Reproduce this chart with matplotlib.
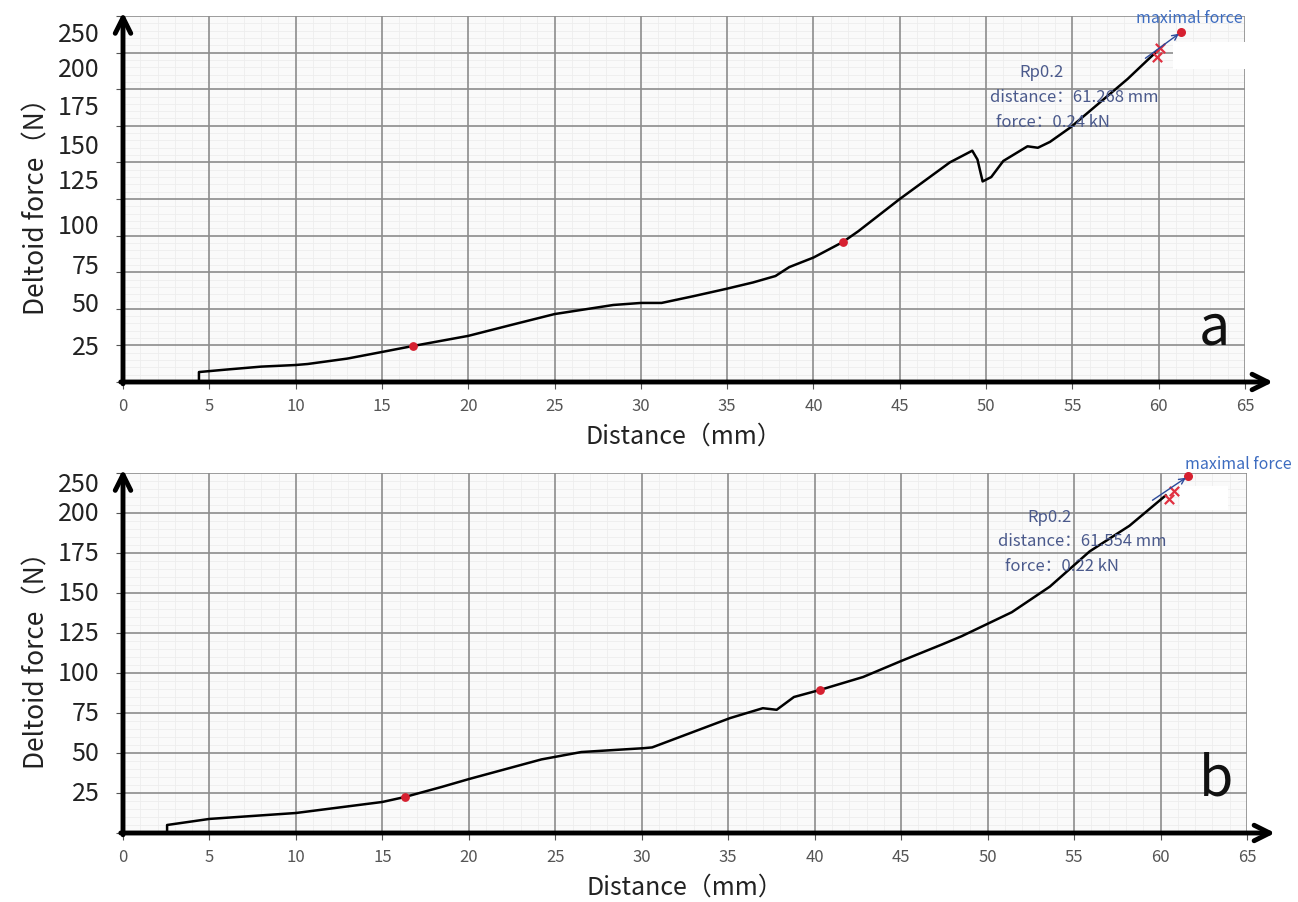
import matplotlib
matplotlib.use("Agg")
import matplotlib.pyplot as plt
from matplotlib.patches import Rectangle
import numpy as np

plt.rcParams['font.family'] = ['Noto Sans CJK SC', 'DejaVu Sans']

# panel a: distance (mm) / force (N)
dist_a = [4.4, 4.4, 6, 8, 10, 10.7, 13, 15, 16.8, 20, 22.5, 25, 28.4, 30, 31.2, 33, 34.9,
          36.5, 37.8, 38.6, 40, 41.7, 42.6, 45, 47.9, 49.2, 49.5, 49.8, 50.3, 51.0, 52.4,
          53.0, 53.7, 54.9, 56.2, 58.2, 59.9]
force_a = [0, 6.8, 8.5, 10.5, 11.6, 12.3, 16, 20.5, 24.6, 31.5, 39, 46.4, 52.6, 54, 54,
           58.5, 63.5, 68, 72.4, 78.5, 85, 95.6, 103, 125, 150, 158, 152, 137, 140, 151,
           161, 160, 164, 174, 187, 207, 226]
marks_a_x = [16.8, 41.7]
marks_a_y = [24.6, 95.6]
rp_a_x = [59.9, 60.1]
rp_a_y = [222, 228]
max_a = (61.3, 239)
arrow_a_from = (59.1, 220)

# panel b
dist_b = [2.55, 2.55, 5, 10, 15, 16.3, 18.4, 20, 24.2, 26.5, 30.1, 30.6, 35.1, 37.0, 37.8,
          38.8, 40.3, 42.8, 45.0, 47.4, 48.5, 51.4, 53.6, 55.9, 58.2, 60.3]
force_b = [0, 5, 8.8, 12.5, 19.4, 22.5, 28.7, 33.7, 46, 50.6, 53, 53.5, 71.8, 78, 77, 85,
           89.4, 97.5, 107.5, 118, 123, 138, 154, 176, 192, 211]
marks_b_x = [16.3, 40.3]
marks_b_y = [22.5, 89.4]
rp_b_x = [60.5, 60.8]
rp_b_y = [209, 214]
max_b = (61.6, 223)
arrow_b_from = (59.4, 207)

ylabels = ['25', '50', '75', '100', '125', '150', '175', '200', '250']
ylabel_pos_a = [23.9, 53.3, 79.2, 106.6, 137.3, 161.2, 187.8, 213.8, 237.7]
ylabel_pos_b = [25, 50, 75, 100, 125, 150, 175, 200, 218]

fig = plt.figure(figsize=(12.98, 9.03), dpi=100)
ax_a = fig.add_axes([123/1298, (903-383)/903, 1122/1298, 366/903])
ax_b = fig.add_axes([123/1298, (903-834)/903, 1124/1298, 360/903])

text_col = '#4b5a8c'
blue = '#3d6cc0'


def draw_panel(ax, d, f, ytop, mx, my, rx, ry, mpt, afrom, ypos, maxlab_xy, txt_xy, txt_lines,
               letter, patch):
    ax.set_facecolor('#fafafa')
    ax.set_xlim(0, 65)
    ax.set_ylim(0, ytop)
    ax.set_xticks(np.arange(0, 66, 5))
    ax.set_yticks(np.arange(0, ytop + 1, 25))
    ax.set_yticklabels([])
    # fine paper grid underneath the main grid
    for v in range(65):
        if v % 5:
            ax.axvline(v, color='#ededed', lw=0.6, zorder=0.1)
    for v in range(0, ytop, 5):
        if v % 25:
            ax.axhline(v, color='#ededed', lw=0.6, zorder=0.1)
    ax.grid(which='major', color='#8c8c8c', lw=1.2)
    ax.tick_params(axis='x', which='major', length=5, color='#555555', labelsize=12,
                   labelcolor='#555555', pad=6)
    ax.tick_params(axis='y', which='major', length=5, color='#555555')
    ax.set_axisbelow(True)
    for s in ax.spines.values():
        s.set_visible(False)

    for p, lab in zip(ypos, ylabels):
        ax.text(-0.021, p, lab, transform=ax.get_yaxis_transform(), ha='right', va='center',
                fontsize=18, color='#222222')

    # white mask patch near the Rp0.2 marker
    ax.add_patch(Rectangle(patch[0], patch[1], patch[2], facecolor='white', edgecolor='none', zorder=2))

    ax.plot(d, f, color='black', lw=1.8, zorder=3)
    ax.scatter(mx, my, s=28, color='#d62030', zorder=4)
    ax.scatter(rx, ry, s=45, marker='x', color='#e03040', lw=1.6, zorder=4)
    ax.scatter([mpt[0]], [mpt[1]], s=30, color='#d62030', zorder=5, clip_on=False)
    ax.annotate('', xy=mpt, xytext=afrom,
                arrowprops=dict(arrowstyle='->', color='#2c4a9a', lw=1.0), zorder=5)
    ax.annotate('maximal force', xy=maxlab_xy, fontsize=11.5, color=blue,
                ha='center', va='center', annotation_clip=False)

    tx, ty = txt_xy
    ax.text(tx + 3.0, ty, txt_lines[0], fontsize=12, color=text_col, ha='center', va='center')
    ax.text(tx, ty - 0.068 * ytop, txt_lines[1], fontsize=12, color=text_col, ha='left', va='center')
    ax.text(tx + 0.4, ty - 0.136 * ytop, txt_lines[2], fontsize=12, color=text_col, ha='left', va='center')

    ax.text(63.2, 0.07 * ytop, letter, fontsize=40, color='#111111', ha='center', va='bottom')

    # thick arrow axes
    ax.annotate('', xy=(1.025, 0), xytext=(-0.002, 0), xycoords='axes fraction',
                arrowprops=dict(arrowstyle='->', lw=3.5, color='black', mutation_scale=28,
                                shrinkA=0, shrinkB=0))
    ax.annotate('', xy=(0, 1.01), xytext=(0, -0.005), xycoords='axes fraction',
                arrowprops=dict(arrowstyle='->', lw=3.5, color='black', mutation_scale=28,
                                shrinkA=0, shrinkB=0))

    ax.set_xlabel('Distance（mm）', fontsize=18, color='#222222', labelpad=6)
    ax.set_ylabel('Deltoid force（N）', fontsize=19, color='#222222', labelpad=44)


draw_panel(ax_a, dist_a, force_a, 250, marks_a_x, marks_a_y, rp_a_x, rp_a_y, max_a, arrow_a_from,
           ylabel_pos_a, (61.8, 249), (50.2, 212),
           ['Rp0.2', 'distance：61.268 mm', 'force：0.24 kN'], 'a',
           ((60.8, 214), 4.2, 18))
draw_panel(ax_b, dist_b, force_b, 225, marks_b_x, marks_b_y, rp_b_x, rp_b_y, max_b, arrow_b_from,
           ylabel_pos_b, (64.5, 231), (50.6, 198),
           ['Rp0.2', 'distance：61.554 mm', 'force：0.22 kN'], 'b',
           ((61.1, 202), 2.8, 15))

fig.savefig('out.png', dpi=100, facecolor='white')
